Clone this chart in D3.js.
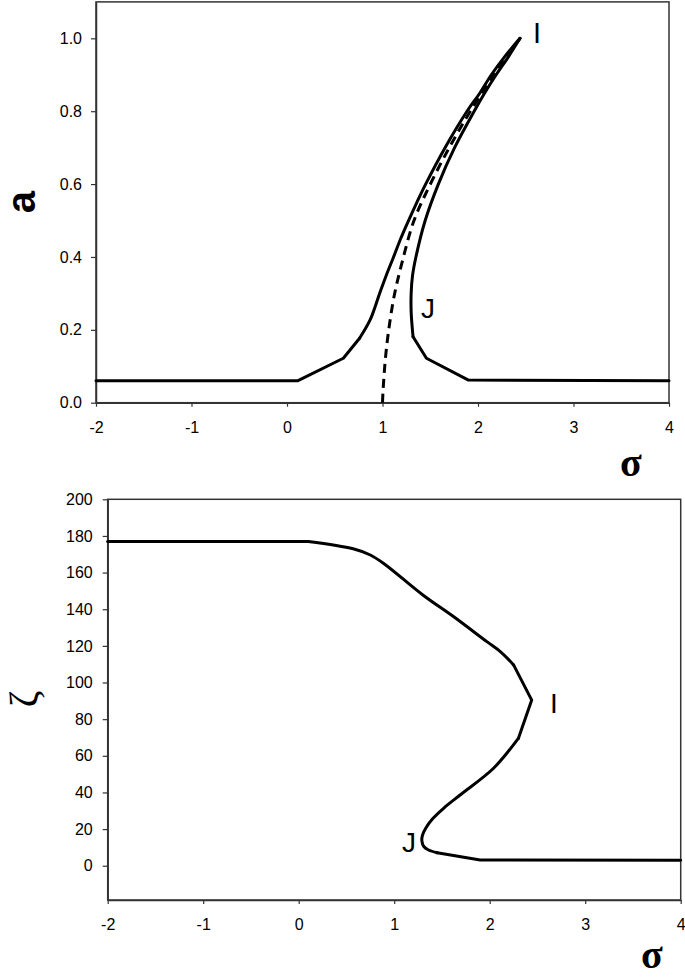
<!DOCTYPE html>
<html>
<head>
<meta charset="utf-8">
<script src="https://cdn.jsdelivr.net/npm/d3@7"></script>
<style>
  html, body { margin: 0; padding: 0; background: #fff; }
  svg { display: block; }
</style>
</head>
<body>
<svg id="chart" width="685" height="978"></svg>
<script>
// ---------- data ----------
const sigmaTicks = [-2, -1, 0, 1, 2, 3, 4];
const aTicks = [0, 0.2, 0.4, 0.6, 0.8, 1.0];
const zetaTicks = [0, 20, 40, 60, 80, 100, 120, 140, 160, 180, 200];

// top panel: amplitude a vs detuning sigma (solid response curve, left branch up to I, back down through J)
const topSolidSigma = [-2, 0.11, 0.59, 0.76, 0.87, 0.97, 1.04, 1.116, 1.19, 1.273, 1.36, 1.452, 1.655, 1.885, 2.02, 2.14, 2.28, 2.44,
                       2.32, 2.19, 2.07, 1.96, 1.755, 1.585, 1.447, 1.35, 1.315, 1.30, 1.30, 1.31, 1.32, 1.46, 1.90, 4];
const topSolidA     = [0.06, 0.06, 0.122, 0.177, 0.227, 0.30, 0.35, 0.40, 0.45, 0.50, 0.55, 0.60, 0.70, 0.80, 0.85, 0.90, 0.95, 1.0,
                       0.95, 0.90, 0.85, 0.80, 0.70, 0.60, 0.50, 0.40, 0.35, 0.30, 0.25, 0.21, 0.181, 0.122, 0.062, 0.06];
// top panel: backbone curve (dashed)
const topDashedSigma = [1.0, 1.005, 1.015, 1.03, 1.06, 1.12, 1.20, 1.33, 1.52, 1.72, 1.92, 2.17, 2.44];
const topDashedA     = [0.0, 0.03, 0.07, 0.12, 0.19, 0.29, 0.38, 0.50, 0.61, 0.71, 0.80, 0.90, 1.0];

// bottom panel: phase zeta vs sigma
const bottomSigma = [-2, 0.10, 0.57, 0.75, 0.89, 1.30, 1.62, 1.97, 2.12, 2.25, 2.44,
                     2.30, 2.04, 1.69, 1.52, 1.40, 1.33, 1.295, 1.29, 1.31, 1.36, 1.45, 1.90, 4];
const bottomZeta  = [177, 177, 173, 169.6, 165, 147.8, 136, 122.3, 116.5, 109.6, 90.4,
                     69.5, 53.2, 38.6, 31.5, 25.5, 20.5, 16.5, 13.5, 10.5, 8.6, 7.1, 3.1, 3];

// ---------- drawing ----------
const svg = d3.select("#chart");
const FONT = '"Liberation Sans", Arial, sans-serif';
const SERIF = '"Liberation Serif", "Times New Roman", serif';

function panel(opts) {
  const g = svg.append("g");
  const x = d3.scaleLinear().domain([-2, 4]).range([opts.left, opts.right]);
  const y = d3.scaleLinear().domain(opts.yDomain).range([opts.bottom, opts.top]);

  g.append("rect")
    .attr("x", opts.left).attr("y", opts.top)
    .attr("width", opts.right - opts.left).attr("height", opts.bottom - opts.top)
    .attr("fill", "none").attr("stroke", "#333").attr("stroke-width", 1.5);

  const xAxis = g.append("g").attr("transform", `translate(0,${opts.bottom})`)
    .call(d3.axisBottom(x).tickValues(sigmaTicks).tickFormat(d => String(d))
      .tickSizeInner(4).tickSizeOuter(0).tickPadding(15));
  const yAxis = g.append("g").attr("transform", `translate(${opts.left},0)`)
    .call(d3.axisLeft(y).tickValues(opts.yTicks).tickFormat(opts.yFormat)
      .tickSizeInner(5).tickSizeOuter(0).tickPadding(opts.yPad));
  [xAxis, yAxis].forEach(ax => {
    ax.select(".domain").attr("stroke", "#333").attr("stroke-width", 1.5);
    ax.selectAll(".tick line").attr("stroke", "#333").attr("stroke-width", 1.2);
    ax.selectAll(".tick text").attr("font-family", FONT).attr("font-size", 16).attr("fill", "#000");
  });
  return { g, x, y };
}

// draw a polyline in pieces: straight pieces keep their kinks, smooth pieces use Catmull-Rom
function drawPieces(P, pts, pieces, extra) {
  pieces.forEach(([i0, i1, smooth]) => {
    const ln = d3.line().x(d => P.x(d[0])).y(d => P.y(d[1]))
      .curve(smooth ? d3.curveCatmullRom.alpha(0.5) : d3.curveLinear);
    const p = P.g.append("path").datum(pts.slice(i0, i1 + 1))
      .attr("d", ln).attr("fill", "none").attr("stroke", "#000")
      .attr("stroke-width", 3).attr("stroke-linejoin", "round").attr("stroke-linecap", "round");
    if (extra) extra(p);
  });
}

// top panel
const P1 = panel({ left: 96, right: 669, top: 1.9, bottom: 402.7,
  yDomain: [0, 1.1], yTicks: aTicks, yFormat: d3.format(".1f"), yPad: 9 });

drawPieces(P1, topDashedSigma.map((s, i) => [s, topDashedA[i]]),
  [[0, topDashedSigma.length - 1, true]],
  p => p.attr("stroke-dasharray", "9,6").attr("stroke-linecap", "butt"));
const topPts = topSolidSigma.map((s, i) => [s, topSolidA[i]]);
const iPeak = topSolidA.indexOf(1.0);
drawPieces(P1, topPts, [[0, 3, false], [3, iPeak, true], [iPeak, topPts.length - 4, true], [topPts.length - 4, topPts.length - 1, false]]);

P1.g.append("text").attr("x", 537).attr("y", 43).attr("text-anchor", "middle")
  .attr("font-family", FONT).attr("font-size", 29).text("I");
P1.g.append("text").attr("x", 428).attr("y", 318).attr("text-anchor", "middle")
  .attr("font-family", FONT).attr("font-size", 28).text("J");
P1.g.append("text").attr("transform", "translate(35,202) rotate(-90)")
  .attr("text-anchor", "middle").attr("font-family", FONT).attr("font-weight", "bold")
  .attr("font-size", 40).text("a");
P1.g.append("text").attr("x", 631).attr("y", 476).attr("text-anchor", "middle")
  .attr("font-family", SERIF).attr("font-weight", "bold").attr("font-size", 40).text("σ");

// bottom panel
const P2 = panel({ left: 107.7, right: 680.7, top: 499.3, bottom: 900,
  yDomain: [-18.7, 200], yTicks: zetaTicks, yFormat: d3.format("d"), yPad: 10 });

const botPts = bottomSigma.map((s, i) => [s, bottomZeta[i]]);
drawPieces(P2, botPts, [[0, 1, false], [1, 9, true], [9, 11, false], [11, 21, true], [21, botPts.length - 1, false]]);

P2.g.append("text").attr("x", 554).attr("y", 713).attr("text-anchor", "middle")
  .attr("font-family", FONT).attr("font-size", 28).text("I");
P2.g.append("text").attr("x", 409).attr("y", 852).attr("text-anchor", "middle")
  .attr("font-family", FONT).attr("font-size", 28).text("J");
P2.g.append("text").attr("transform", "translate(37,699) rotate(-90)")
  .attr("text-anchor", "middle").attr("font-family", SERIF)
  .attr("font-size", 40).text("ζ");
P2.g.append("text").attr("x", 652).attr("y", 968).attr("text-anchor", "middle")
  .attr("font-family", SERIF).attr("font-weight", "bold").attr("font-size", 40).text("σ");
</script>
</body>
</html>
